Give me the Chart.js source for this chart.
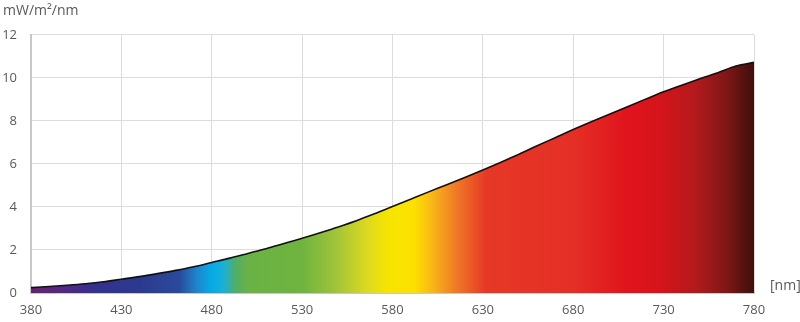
<!DOCTYPE html>
<html>
<head>
<meta charset="utf-8">
<script src="https://cdn.jsdelivr.net/npm/chart.js@4.4.1/dist/chart.umd.min.js"></script>
<style>
  html, body { margin: 0; padding: 0; background: #fff; }
  #wrap { width: 800px; height: 322px; }
</style>
</head>
<body>
<div id="wrap"><canvas id="spectrum"></canvas></div>
<script>
// longueurs d'onde (nm) et irradiance spectrale
const wavelengths = [380, 390, 400, 410, 420, 430, 440, 450, 460, 470,
                     480, 490, 500, 510, 520, 530, 540, 550, 560, 570,
                     580, 590, 600, 610, 620, 630, 640, 650, 660, 670,
                     680, 690, 700, 710, 720, 730, 740, 750, 760, 770, 780];
const irradiance = [0.25, 0.30, 0.36, 0.43, 0.52, 0.64, 0.76, 0.90, 1.05, 1.22,
                    1.42, 1.62, 1.84, 2.06, 2.30, 2.54, 2.80, 3.07, 3.36, 3.68,
                    4.02, 4.36, 4.70, 5.03, 5.37, 5.72, 6.08, 6.45, 6.84, 7.22,
                    7.60, 7.96, 8.31, 8.66, 9.01, 9.35, 9.66, 9.96, 10.24, 10.55, 10.72];
const xTicks = [380, 430, 480, 530, 580, 630, 680, 730, 780];
const yTicks = [0, 2, 4, 6, 8, 10, 12];
const yUnit = 'mW/m²/nm';
const xUnit = '[nm]';

// couleurs du spectre visible (position en nm, couleur)
const spectrumStops = [
    [380, '#6b1f6f'], [395, '#5a2680'], [415, '#34318f'], [440, '#2c3a8e'],
    [462, '#2a4a9c'], [472, '#1f86cc'], [480, '#05abe6'], [487, '#1cb0d6'],
    [493, '#4fae68'], [500, '#6ab246'], [530, '#6fb43f'], [548, '#9ec33a'],
    [566, '#dcd920'], [578, '#f7e400'], [592, '#fde100'], [603, '#f7b319'],
    [615, '#ef7a25'], [632, '#e63826'], [680, '#e42f26'], [710, '#e0141c'],
    [728, '#d6141b'], [748, '#b21a1c'], [765, '#7f1716'], [780, '#3c0f0b']
];

const grey = '#595959';
const font = { family: "'Open Sans', sans-serif", size: 13 };

function spectrumFill(context) {
    const chart = context.chart;
    const { ctx, chartArea, scales } = chart;
    if (!chartArea) {
        return null;
    }
    const x0 = scales.x.getPixelForValue(380);
    const x1 = scales.x.getPixelForValue(780);
    const gradient = ctx.createLinearGradient(x0, 0, x1, 0);
    for (const stop of spectrumStops) {
        gradient.addColorStop((stop[0] - 380) / 400, stop[1]);
    }
    return gradient;
}

// petite extension pour écrire l'unité de l'axe x à droite
const unitLabel = {
    id: 'unitLabel',
    afterDraw(chart) {
        const { ctx, chartArea } = chart;
        ctx.save();
        ctx.font = '14px ' + font.family;
        ctx.fillStyle = grey;
        ctx.textAlign = 'left';
        ctx.textBaseline = 'middle';
        ctx.fillText(xUnit, chartArea.right + 16, chartArea.bottom - 7);
        ctx.restore();
    }
};

const points = wavelengths.map((w, i) => ({ x: w, y: irradiance[i] }));

new Chart(document.getElementById('spectrum'), {
    type: 'line',
    data: {
        datasets: [{
            data: points,
            borderColor: '#111',
            borderWidth: 1.6,
            backgroundColor: spectrumFill,
            fill: 'origin',
            pointRadius: 0,
            tension: 0.3,
            cubicInterpolationMode: 'monotone'
        }]
    },
    options: {
        responsive: true,
        maintainAspectRatio: false,
        animation: false,
        layout: { padding: { left: 3, right: 46, top: 0, bottom: 0 } },
        plugins: {
            legend: { display: false },
            tooltip: { enabled: false },
            title: {
                display: true,
                text: yUnit,
                align: 'start',
                color: grey,
                font: { family: font.family, size: 14, weight: 'normal' },
                padding: { top: 3, bottom: 15 }
            }
        },
        scales: {
            x: {
                type: 'linear',
                min: 380,
                max: 780,
                afterBuildTicks: scale => { scale.ticks = xTicks.map(v => ({ value: v })); },
                afterFit: scale => { scale.height = 29; },
                ticks: { color: grey, font: font, padding: 9, maxRotation: 0 },
                grid: { color: '#dedbd8', lineWidth: 1, drawTicks: false },
                border: { color: '#c8c8c8', width: 2 }
            },
            y: {
                min: 0,
                max: 12,
                afterBuildTicks: scale => { scale.ticks = yTicks.map(v => ({ value: v })); },
                afterFit: scale => { scale.width = 28; },
                ticks: { color: grey, font: font, padding: 14 },
                grid: { color: '#dedbd8', lineWidth: 1, drawTicks: false },
                border: { color: '#c8c8c8', width: 2 }
            }
        }
    },
    plugins: [unitLabel]
});
</script>
</body>
</html>
